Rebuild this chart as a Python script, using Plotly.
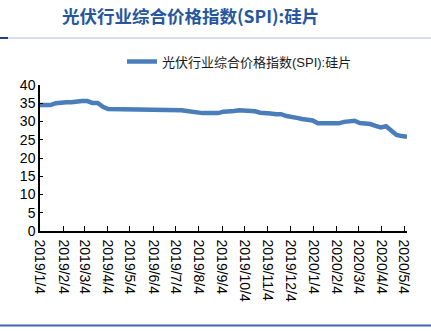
import pandas as pd
import plotly.graph_objects as go

title_text = "光伏行业综合价格指数(SPI):硅片"
series_name = "光伏行业综合价格指数(SPI):硅片"

# weekly observations starting 2019-01-04
start_date = "2019-01-04"
spi_values = [
    34.5, 34.5, 34.5, 35.0, 35.3, 35.3, 35.3, 35.6, 35.6, 35.6,
    35.1, 35.1, 34.0, 33.4, 33.4, 33.4, 33.4, 33.4, 33.1, 33.1,
    33.1, 33.1, 33.1, 33.1, 33.1, 33.1, 33.1, 33.1, 32.9, 32.6,
    32.6, 32.3, 32.3, 32.3, 32.3, 32.7, 32.7, 32.9, 33.1, 33.1,
    33.1, 32.8, 32.4, 32.4, 32.2, 32.0, 32.0, 31.5, 31.1, 31.0,
    30.7, 30.4, 30.3, 29.5, 29.5, 29.5, 29.5, 29.5, 29.9, 30.2,
    30.2, 29.6, 29.5, 29.3, 28.8, 28.4, 28.7, 27.4, 26.3, 26.0,
    25.8,
]
dates = pd.date_range(start_date, periods=len(spi_values), freq="7D")

tick_dates = ["2019-01-04", "2019-02-04", "2019-03-04", "2019-04-04", "2019-05-04",
              "2019-06-04", "2019-07-04", "2019-08-04", "2019-09-04", "2019-10-04",
              "2019-11-04", "2019-12-04", "2020-01-04", "2020-02-04", "2020-03-04",
              "2020-04-04", "2020-05-04"]
tick_labels = ["2019/1/4", "2019/2/4", "2019/3/4", "2019/4/4", "2019/5/4",
               "2019/6/4", "2019/7/4", "2019/8/4", "2019/9/4", "2019/10/4",
               "2019/11/4", "2019/12/4", "2020/1/4", "2020/2/4", "2020/3/4",
               "2020/4/4", "2020/5/4"]

W, H = 431, 331
L, R, T, B = 40, 24, 85, 100
pw = W - L - R
ph = H - T - B

def px(x):
    return (x - L) / pw

def py(y):
    return (H - B - y) / ph

font_family = "Liberation Sans, Arial, Noto Sans CJK SC, sans-serif"

fig = go.Figure()
fig.add_trace(go.Scatter(
    x=dates, y=spi_values, mode="lines", name=series_name,
    line=dict(color="#4A7EBB", width=4.5),
))

fig.update_layout(
    width=W, height=H,
    margin=dict(l=L, r=R, t=T, b=B),
    paper_bgcolor="white", plot_bgcolor="white",
    font=dict(family=font_family, size=13, color="#000000"),
    showlegend=True,
    legend=dict(
        x=px(122), y=py(61.5), xanchor="left", yanchor="middle",
        orientation="h", font=dict(size=13, family="Liberation Sans, Noto Sans CJK SC, sans-serif", color="#1a1a1a"),
        bgcolor="rgba(0,0,0,0)", borderwidth=0,
    ),
    xaxis=dict(
        type="date",
        range=[dates[0], dates[-1]],
        tickmode="array", tickvals=tick_dates, ticktext=tick_labels,
        tickangle=90, ticks="inside", ticklen=5, tickcolor="#000",
        showline=True, linecolor="#000", linewidth=1.5,
        showgrid=False, zeroline=False,
        tickfont=dict(size=14), ticklabelstandoff=4,
    ),
    yaxis=dict(
        range=[0, 40], dtick=5, tick0=0,
        ticks="inside", ticklen=3, tickcolor="#000",
        showline=True, linecolor="#000", linewidth=1.5,
        showgrid=False, zeroline=False,
        tickfont=dict(size=14),
    ),
)

fig.add_annotation(
    text="<b>" + title_text + "</b>",
    xref="paper", yref="paper", x=px(60), y=py(15),
    xanchor="left", yanchor="middle", showarrow=False,
    font=dict(size=17.5, color="#2556A0", family="Noto Sans CJK SC, Liberation Sans, sans-serif"),
)

# header rule
fig.add_shape(type="line", xref="paper", yref="paper",
              x0=px(0), x1=px(431), y0=py(38), y1=py(38),
              line=dict(color="#C8D2EA", width=1.5))
fig.add_shape(type="line", xref="paper", yref="paper",
              x0=px(0), x1=px(8), y0=py(38), y1=py(38),
              line=dict(color="#1F3F8A", width=2))
# footer rule
fig.add_shape(type="line", xref="paper", yref="paper",
              x0=px(0), x1=px(431), y0=py(325.5), y1=py(325.5),
              line=dict(color="#3F63B5", width=2))

fig.write_html("out.html")
